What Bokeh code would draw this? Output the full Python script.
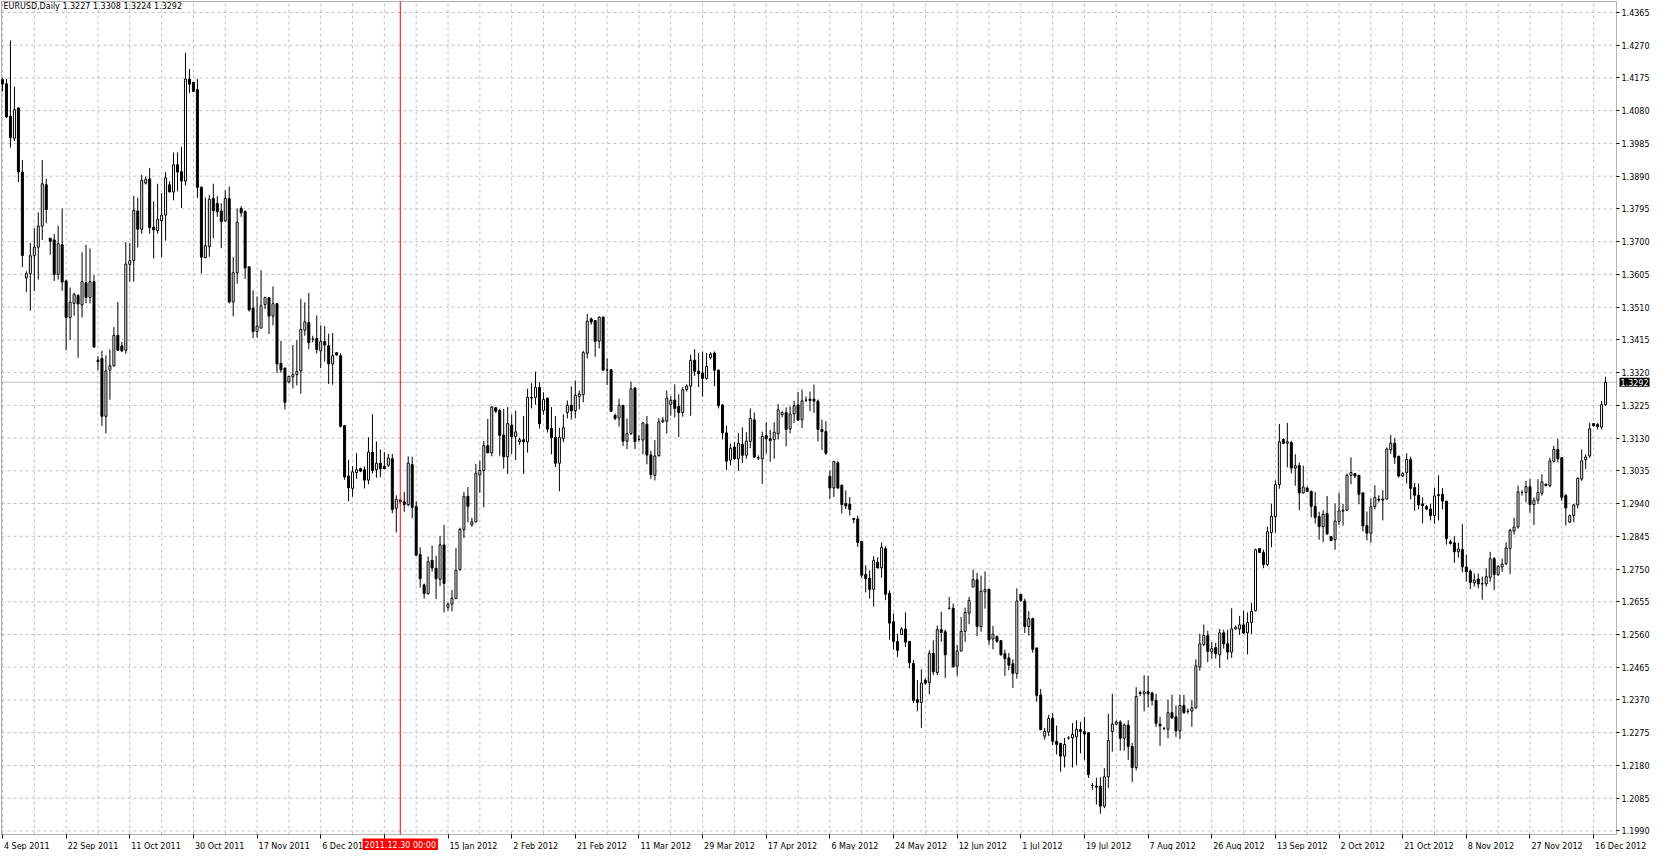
from bokeh.plotting import figure
from bokeh.models import (ColumnDataSource, FixedTicker, LinearAxis, Range1d, Label,
                          BoxAnnotation, PrintfTickFormatter)
from bokeh.embed import file_html
from bokeh.resources import INLINE

# ---------------- data (EURUSD daily) ----------------
opens = [1.4170,1.4158,1.4064,1.4000,1.4088,1.3902,1.3595,1.3607,1.3659,1.3684,
1.3745,1.3865,1.3710,1.3705,1.3605,1.3691,1.3586,1.3480,1.3521,1.3544,
1.3516,1.3581,1.3538,1.3584,1.3356,1.3361,1.3193,1.3327,1.3340,1.3428,
1.3397,1.3385,1.3634,1.3645,1.3789,1.3736,1.3870,1.3882,1.3742,1.3732,
1.3761,1.3777,1.3865,1.3844,1.3923,1.3903,1.3876,1.4172,1.4162,1.4141,
1.3858,1.3653,1.3686,1.3825,1.3811,1.3789,1.3760,1.3825,1.3525,1.3610,
1.3796,1.3787,1.3627,1.3507,1.3439,1.3449,1.3517,1.3537,1.3484,1.3520,
1.3347,1.3333,1.3293,1.3308,1.3314,1.3325,1.3443,1.3465,1.3417,1.3419,
1.3383,1.3410,1.3398,1.3345,1.3378,1.3369,1.3166,1.3020,1.2984,1.3030,
1.3041,1.3038,1.3008,1.3089,1.3038,1.3057,1.3048,1.3051,1.3070,1.2926,
1.2950,1.2945,1.2937,1.3053,1.2931,1.2792,1.2704,1.2679,1.2775,1.2752,
1.2720,1.2820,1.2639,1.2648,1.2664,1.2749,1.2864,1.2961,1.2878,1.2887,
1.3023,1.3036,1.3108,1.3087,1.3218,1.3210,1.3139,1.3076,1.3168,1.3134,
1.3119,1.3125,1.3119,1.3248,1.3248,1.3277,1.3210,1.3246,1.3158,1.3132,
1.3057,1.3129,1.3204,1.3225,1.3209,1.3251,1.3256,1.3376,1.3476,1.3471,
1.3411,1.3481,1.3328,1.3328,1.3196,1.3188,1.3225,1.3121,1.3143,1.3275,
1.3126,1.3124,1.3170,1.3081,1.3022,1.3079,1.3177,1.3179,1.3228,1.3240,
1.3222,1.3204,1.3271,1.3281,1.3356,1.3324,1.3319,1.3303,1.3364,1.3377,
1.3327,1.3226,1.3145,1.3066,1.3104,1.3070,1.3112,1.3080,1.3120,1.3183,
1.3072,1.3070,1.3137,1.3128,1.3126,1.3142,1.3198,1.3204,1.3157,1.3200,
1.3226,1.3183,1.3240,1.3243,1.3243,1.3237,1.3155,1.3149,1.3019,1.2985,
1.3058,1.2993,1.2940,1.2938,1.2897,1.2895,1.2830,1.2734,1.2723,1.2691,
1.2770,1.2753,1.2809,1.2680,1.2597,1.2540,1.2560,1.2576,1.2540,1.2476,
1.2371,1.2363,1.2427,1.2420,1.2505,1.2450,1.2574,1.2568,1.2636,1.2636,
1.2468,1.2512,1.2569,1.2622,1.2698,1.2719,1.2583,1.2684,1.2691,1.2547,
1.2554,1.2542,1.2504,1.2492,1.2475,1.2447,1.2676,1.2657,1.2583,1.2606,
1.2521,1.2384,1.2265,1.2277,1.2317,1.2250,1.2244,1.2207,1.2260,1.2260,
1.2263,1.2284,1.2278,1.2275,1.2122,1.2120,1.2120,1.2062,1.2147,1.2278,
1.2300,1.2306,1.2259,1.2297,1.2235,1.2174,1.2391,1.2388,1.2394,1.2390,
1.2369,1.2300,1.2287,1.2285,1.2333,1.2321,1.2280,1.2354,1.2337,1.2338,
1.2347,1.2466,1.2531,1.2557,1.2509,1.2522,1.2501,1.2565,1.2533,1.2509,
1.2576,1.2576,1.2588,1.2565,1.2595,1.2629,1.2809,1.2798,1.2763,1.2856,
1.2902,1.2995,1.3126,1.3115,1.3117,1.3043,1.3050,1.2971,1.2985,1.2976,
1.2932,1.2902,1.2873,1.2911,1.2844,1.2835,1.2888,1.2918,1.2921,1.3022,
1.3027,1.3022,1.2971,1.2876,1.2854,1.2931,1.2953,1.2953,1.2953,1.3096,
1.3115,1.3077,1.3020,1.3030,1.3068,1.2986,1.2964,1.2939,1.2931,1.2924,
1.2905,1.2963,1.2967,1.2947,1.2829,1.2826,1.2800,1.2807,1.2756,1.2744,
1.2710,1.2721,1.2707,1.2707,1.2726,1.2780,1.2734,1.2756,1.2766,1.2809,
1.2860,1.2872,1.2972,1.2972,1.2989,1.2937,1.2950,1.2970,1.2996,1.2992,
1.3062,1.3097,1.3073,1.2963,1.2886,1.2905,1.2936,1.3011,1.3067,1.3078,
1.3172,1.3169,1.3162,1.3227]

highs = [1.4174,1.4172,1.4284,1.4150,1.4090,1.3937,1.3614,1.3696,1.3739,1.3785,
1.3937,1.3882,1.3710,1.3722,1.3746,1.3796,1.3590,1.3567,1.3552,1.3547,
1.3669,1.3691,1.3680,1.3603,1.3368,1.3383,1.3370,1.3387,1.3452,1.3525,
1.3409,1.3699,1.3696,1.3833,1.3828,1.3894,1.3889,1.3914,1.3817,1.3868,
1.3841,1.3902,1.3875,1.3959,1.3959,1.3975,1.4248,1.4201,1.4164,1.4172,
1.3860,1.3828,1.3835,1.3868,1.3832,1.3811,1.3849,1.3860,1.3655,1.3796,
1.3803,1.3791,1.3627,1.3559,1.3541,1.3617,1.3540,1.3539,1.3570,1.3521,
1.3412,1.3335,1.3311,1.3400,1.3414,1.3534,1.3524,1.3551,1.3427,1.3486,
1.3457,1.3455,1.3433,1.3435,1.3379,1.3376,1.3167,1.3067,1.3048,1.3086,
1.3044,1.3048,1.3132,1.3199,1.3120,1.3097,1.3089,1.3084,1.3084,1.2964,
1.2955,1.2974,1.3077,1.3076,1.2947,1.2813,1.2708,1.2787,1.2818,1.2789,
1.2846,1.2878,1.2653,1.2689,1.2811,1.2870,1.2974,1.2988,1.2899,1.3055,
1.3064,1.3122,1.3186,1.3224,1.3220,1.3215,1.3215,1.3220,1.3198,1.3210,
1.3131,1.3194,1.3273,1.3289,1.3323,1.3292,1.3263,1.3246,1.3220,1.3194,
1.3160,1.3199,1.3239,1.3280,1.3297,1.3268,1.3383,1.3490,1.3480,1.3471,
1.3483,1.3483,1.3361,1.3330,1.3201,1.3244,1.3225,1.3187,1.3294,1.3278,
1.3139,1.3177,1.3194,1.3093,1.3124,1.3188,1.3191,1.3268,1.3252,1.3286,
1.3257,1.3278,1.3286,1.3372,1.3388,1.3377,1.3381,1.3377,1.3379,1.3381,
1.3329,1.3228,1.3166,1.3114,1.3118,1.3144,1.3161,1.3147,1.3216,1.3204,
1.3080,1.3149,1.3176,1.3154,1.3176,1.3228,1.3209,1.3219,1.3222,1.3238,
1.3264,1.3271,1.3251,1.3265,1.3285,1.3242,1.3184,1.3179,1.3036,1.3064,
1.3063,1.2995,1.2978,1.2959,1.2897,1.2905,1.2830,1.2761,1.2746,1.2787,
1.2784,1.2827,1.2816,1.2688,1.2621,1.2562,1.2581,1.2624,1.2540,1.2486,
1.2428,1.2459,1.2433,1.2514,1.2543,1.2586,1.2626,1.2574,1.2669,1.2650,
1.2530,1.2611,1.2638,1.2669,1.2748,1.2739,1.2731,1.2743,1.2693,1.2585,
1.2557,1.2544,1.2516,1.2506,1.2488,1.2694,1.2678,1.2664,1.2628,1.2609,
1.2521,1.2402,1.2289,1.2327,1.2332,1.2296,1.2246,1.2260,1.2265,1.2303,
1.2311,1.2306,1.2321,1.2275,1.2129,1.2144,1.2146,1.2172,1.2330,1.2388,
1.2311,1.2311,1.2302,1.2311,1.2245,1.2407,1.2397,1.2442,1.2440,1.2394,
1.2388,1.2321,1.2292,1.2371,1.2385,1.2354,1.2385,1.2385,1.2345,1.2369,
1.2488,1.2562,1.2589,1.2571,1.2538,1.2536,1.2576,1.2574,1.2574,1.2636,
1.2586,1.2614,1.2629,1.2624,1.2651,1.2809,1.2811,1.2806,1.2873,1.2940,
1.3007,1.3171,1.3129,1.3174,1.3122,1.3083,1.3059,1.3050,1.2990,1.2976,
1.2973,1.2916,1.2921,1.2962,1.2846,1.2940,1.2971,1.2939,1.3027,1.3074,
1.3029,1.3022,1.2971,1.2917,1.2955,1.2993,1.2964,1.2979,1.3103,1.3139,
1.3130,1.3079,1.3031,1.3086,1.3076,1.3000,1.2998,1.2958,1.2936,1.2939,
1.2986,1.3022,1.2985,1.2947,1.2835,1.2845,1.2826,1.2880,1.2792,1.2749,
1.2737,1.2737,1.2728,1.2752,1.2800,1.2785,1.2761,1.2780,1.2828,1.2867,
1.2899,1.2992,1.2979,1.3006,1.3011,1.2958,1.3011,1.3025,1.2998,1.3073,
1.3107,1.3128,1.3075,1.2968,1.2908,1.2939,1.3016,1.3097,1.3083,1.3174,
1.3174,1.3174,1.3238,1.3308]

lows = [1.4136,1.4059,1.3973,1.3992,1.3873,1.3626,1.3554,1.3500,1.3557,1.3590,
1.3705,1.3753,1.3662,1.3586,1.3590,1.3557,1.3385,1.3415,1.3485,1.3363,
1.3480,1.3521,1.3521,1.3392,1.3327,1.3165,1.3144,1.3241,1.3337,1.3383,
1.3380,1.3375,1.3584,1.3584,1.3683,1.3723,1.3866,1.3723,1.3651,1.3723,
1.3655,1.3703,1.3844,1.3820,1.3846,1.3798,1.3863,1.4131,1.4136,1.3827,
1.3608,1.3653,1.3656,1.3710,1.3772,1.3681,1.3758,1.3521,1.3483,1.3578,
1.3772,1.3592,1.3497,1.3420,1.3421,1.3449,1.3504,1.3432,1.3457,1.3319,
1.3319,1.3213,1.3289,1.3274,1.3283,1.3259,1.3427,1.3388,1.3408,1.3376,
1.3333,1.3352,1.3287,1.3285,1.3369,1.3161,1.3009,1.2947,1.2960,1.3012,
1.3031,1.2984,1.2996,1.3027,1.3015,1.3017,1.3039,1.3046,1.2912,1.2856,
1.2940,1.2916,1.2932,1.2897,1.2790,1.2696,1.2664,1.2675,1.2742,1.2663,
1.2701,1.2624,1.2629,1.2627,1.2664,1.2744,1.2840,1.2886,1.2873,1.2885,
1.2971,1.2929,1.3087,1.3077,1.3203,1.3079,1.3041,1.3026,1.3084,1.3066,
1.3110,1.3026,1.3088,1.3216,1.3227,1.3158,1.3198,1.3146,1.3083,1.3046,
1.2976,1.3118,1.3187,1.3184,1.3188,1.3213,1.3234,1.3361,1.3459,1.3366,
1.3390,1.3327,1.3284,1.3206,1.3182,1.3163,1.3107,1.3098,1.3139,1.3098,
1.3120,1.3083,1.3054,1.3012,1.3007,1.3076,1.3175,1.3143,1.3195,1.3190,
1.3133,1.3192,1.3265,1.3195,1.3310,1.3278,1.3250,1.3300,1.3358,1.3281,
1.3216,1.3126,1.3037,1.3051,1.3066,1.3034,1.3058,1.3070,1.3101,1.3072,
1.3066,1.2997,1.3085,1.3061,1.3070,1.3126,1.3190,1.3106,1.3144,1.3174,
1.3181,1.3159,1.3234,1.3208,1.3203,1.3120,1.3095,1.3081,1.2953,1.2959,
1.2983,1.2911,1.2924,1.2905,1.2883,1.2814,1.2723,1.2682,1.2664,1.2641,
1.2753,1.2725,1.2660,1.2545,1.2516,1.2495,1.2560,1.2524,1.2462,1.2361,
1.2337,1.2289,1.2414,1.2387,1.2442,1.2442,1.2539,1.2434,1.2633,1.2464,
1.2440,1.2511,1.2539,1.2590,1.2697,1.2555,1.2568,1.2635,1.2530,1.2517,
1.2536,1.2499,1.2440,1.2456,1.2405,1.2432,1.2654,1.2564,1.2557,1.2507,
1.2365,1.2282,1.2255,1.2265,1.2239,1.2212,1.2162,1.2174,1.2255,1.2174,
1.2182,1.2215,1.2196,1.2144,1.2110,1.2067,1.2040,1.2056,1.2115,1.2220,
1.2297,1.2223,1.2223,1.2196,1.2132,1.2166,1.2381,1.2337,1.2349,1.2354,
1.2292,1.2237,1.2282,1.2259,1.2316,1.2263,1.2256,1.2330,1.2330,1.2292,
1.2345,1.2455,1.2526,1.2480,1.2490,1.2490,1.2463,1.2519,1.2487,1.2492,
1.2574,1.2559,1.2562,1.2502,1.2562,1.2627,1.2796,1.2753,1.2758,1.2813,
1.2856,1.2983,1.3112,1.3045,1.3028,1.2992,1.2921,1.2969,1.2973,1.2900,
1.2882,1.2835,1.2828,1.2849,1.2830,1.2806,1.2878,1.2876,1.2919,1.2996,
1.3014,1.2938,1.2859,1.2833,1.2826,1.2923,1.2943,1.2891,1.2952,1.3084,
1.3055,1.3015,1.3017,1.2998,1.2952,1.2919,1.2923,1.2883,1.2921,1.2891,
1.2881,1.2891,1.2923,1.2821,1.2821,1.2768,1.2783,1.2740,1.2714,1.2692,
1.2699,1.2694,1.2661,1.2699,1.2713,1.2689,1.2730,1.2742,1.2761,1.2735,
1.2850,1.2867,1.2963,1.2944,1.2913,1.2878,1.2939,1.2963,1.2990,1.2987,
1.3059,1.3059,1.2948,1.2876,1.2884,1.2886,1.2926,1.3006,1.3040,1.3073,
1.3163,1.3155,1.3155,1.3224]

closes = [1.4158,1.4062,1.4002,1.4083,1.3902,1.3660,1.3607,1.3659,1.3684,1.3745,
1.3868,1.3793,1.3701,1.3605,1.3694,1.3583,1.3480,1.3524,1.3547,1.3519,
1.3584,1.3538,1.3584,1.3394,1.3352,1.3193,1.3325,1.3340,1.3428,1.3385,
1.3383,1.3635,1.3645,1.3791,1.3736,1.3878,1.3880,1.3741,1.3734,1.3765,
1.3777,1.3885,1.3844,1.3923,1.3902,1.3876,1.4172,1.4157,1.4136,1.3858,
1.3655,1.3688,1.3823,1.3790,1.3787,1.3758,1.3825,1.3525,1.3610,1.3756,
1.3784,1.3624,1.3502,1.3439,1.3455,1.3514,1.3538,1.3484,1.3520,1.3345,
1.3328,1.3234,1.3309,1.3314,1.3323,1.3445,1.3467,1.3407,1.3417,1.3387,
1.3410,1.3400,1.3345,1.3369,1.3371,1.3164,1.3017,1.2986,1.3032,1.3038,
1.3034,1.3008,1.3089,1.3036,1.3057,1.3041,1.3041,1.3072,1.2923,1.2952,
1.2945,1.2937,1.3057,1.2929,1.2790,1.2722,1.2679,1.2771,1.2753,1.2722,
1.2820,1.2708,1.2648,1.2665,1.2746,1.2865,1.2961,1.2932,1.2887,1.3028,
1.3036,1.3108,1.3087,1.3220,1.3208,1.3138,1.3076,1.3172,1.3134,1.3148,
1.3125,1.3119,1.3248,1.3246,1.3277,1.3172,1.3242,1.3156,1.3131,1.3057,
1.3132,1.3160,1.3225,1.3209,1.3254,1.3258,1.3378,1.3469,1.3467,1.3411,
1.3481,1.3327,1.3328,1.3208,1.3187,1.3225,1.3121,1.3143,1.3273,1.3120,
1.3126,1.3174,1.3081,1.3024,1.3078,1.3177,1.3182,1.3246,1.3240,1.3216,
1.3204,1.3270,1.3281,1.3356,1.3324,1.3317,1.3303,1.3338,1.3374,1.3327,
1.3224,1.3145,1.3063,1.3101,1.3070,1.3115,1.3080,1.3121,1.3187,1.3075,
1.3073,1.3135,1.3128,1.3123,1.3147,1.3212,1.3204,1.3155,1.3200,1.3224,
1.3182,1.3238,1.3240,1.3239,1.3237,1.3155,1.3149,1.3086,1.2985,1.3062,
1.2985,1.2937,1.2933,1.2923,1.2894,1.2827,1.2732,1.2722,1.2691,1.2775,
1.2753,1.2813,1.2677,1.2593,1.2540,1.2514,1.2576,1.2538,1.2478,1.2369,
1.2363,1.2419,1.2419,1.2505,1.2452,1.2574,1.2566,1.2501,1.2636,1.2466,
1.2512,1.2569,1.2624,1.2659,1.2719,1.2583,1.2686,1.2691,1.2544,1.2561,
1.2540,1.2501,1.2490,1.2471,1.2447,1.2657,1.2659,1.2583,1.2606,1.2517,
1.2383,1.2284,1.2279,1.2316,1.2250,1.2241,1.2207,1.2241,1.2260,1.2270,
1.2285,1.2278,1.2271,1.2153,1.2122,1.2117,1.2062,1.2147,1.2252,1.2300,
1.2306,1.2259,1.2297,1.2235,1.2174,1.2380,1.2389,1.2394,1.2388,1.2369,
1.2302,1.2295,1.2287,1.2333,1.2318,1.2280,1.2354,1.2333,1.2337,1.2347,
1.2469,1.2533,1.2557,1.2511,1.2519,1.2504,1.2565,1.2533,1.2509,1.2576,
1.2581,1.2588,1.2564,1.2595,1.2627,1.2806,1.2798,1.2763,1.2858,1.2903,
1.2995,1.3119,1.3115,1.3119,1.3043,1.3050,1.2971,1.2988,1.2975,1.2932,
1.2900,1.2873,1.2909,1.2852,1.2833,1.2889,1.2919,1.2921,1.3022,1.3030,
1.3020,1.2967,1.2875,1.2854,1.2931,1.2958,1.2950,1.2950,1.3098,1.3115,
1.3074,1.3020,1.3027,1.3068,1.2984,1.2964,1.2936,1.2934,1.2924,1.2905,
1.2962,1.2966,1.2947,1.2838,1.2824,1.2800,1.2808,1.2756,1.2742,1.2711,
1.2718,1.2707,1.2707,1.2728,1.2780,1.2734,1.2758,1.2764,1.2811,1.2862,
1.2872,1.2974,1.2972,1.2989,1.2937,1.2950,1.2972,1.3003,1.2992,1.3064,
1.3097,1.3070,1.2958,1.2927,1.2905,1.2936,1.3013,1.3064,1.3075,1.3157,
1.3166,1.3163,1.3227,1.3292]

date_tick_bars = [0, 16, 32, 48, 64, 80, 96, 112, 128, 144, 160, 176, 192, 208,
                  224, 240, 256, 272, 288, 304, 320, 336, 352, 368, 384, 400]
date_tick_labels = ["4 Sep 2011", "22 Sep 2011", "11 Oct 2011", "30 Oct 2011",
                    "17 Nov 2011", "6 Dec 2011", "", "15 Jan 2012", "2 Feb 2012",
                    "21 Feb 2012", "11 Mar 2012", "29 Mar 2012", "17 Apr 2012",
                    "6 May 2012", "24 May 2012", "12 Jun 2012", "1 Jul 2012",
                    "19 Jul 2012", "7 Aug 2012", "26 Aug 2012", "13 Sep 2012",
                    "2 Oct 2012", "21 Oct 2012", "8 Nov 2012", "27 Nov 2012",
                    "16 Dec 2012"]
price_ticks = [1.1990, 1.2085, 1.2180, 1.2275, 1.2370, 1.2465, 1.2560, 1.2655,
               1.2750, 1.2845, 1.2940, 1.3035, 1.3130, 1.3225, 1.3320, 1.3415,
               1.3510, 1.3605, 1.3700, 1.3795, 1.3890, 1.3985, 1.4080, 1.4175,
               1.4270, 1.4365]
grid_bars = list(range(0, 406, 8))
marker_bar = 100
marker_text = "2011.12.30 00:00"
bid_price = 1.3292
bid_text = "1.3292"
header_text = "EURUSD,Daily  1.3227 1.3308 1.3224 1.3292"

# ---------------- layout (pixels inside the canvas) ----------------
W, H = 1652, 850
CL, CT, CR, CB = 1, 1, 1616, 834          # chart box
X0, X1 = -0.25, 405.75                     # bar span of chart box
Y0, Y1 = 1.19796, 1.43969                  # price span of chart box
FONT = "DejaVu Sans"
FS = "8px"

bpp = (X1 - X0) / (CR - CL)                # bars per pixel
ppp = (Y1 - Y0) / (CB - CT)                # price per pixel
x_range = Range1d(X0 - CL * bpp, X0 + (W - CL) * bpp)
y_range = Range1d(Y1 - (H - CT) * ppp, Y1 + CT * ppp)

p = figure(width=W, height=H, x_range=x_range, y_range=y_range,
           x_axis_type=None, y_axis_type=None, output_backend="svg",
           toolbar_location=None, min_border=0, min_border_left=0,
           min_border_right=0, min_border_top=0, min_border_bottom=0)
p.outline_line_color = None
p.background_fill_color = "white"
p.border_fill_color = "white"
p.grid.visible = False

# dashed grid inside the chart box
grid_style = dict(line_color="#c0c0c0", line_dash="3 3", line_width=1)
p.segment(x0=[X0] * len(price_ticks), x1=[X1] * len(price_ticks),
          y0=price_ticks, y1=price_ticks, **grid_style)
p.segment(x0=grid_bars, x1=grid_bars, y0=[Y0] * len(grid_bars),
          y1=[Y1] * len(grid_bars), **grid_style)

# bid line
p.segment(x0=[X0], x1=[X1], y0=[bid_price], y1=[bid_price],
          line_color="#c0c0c0", line_width=1)

# candles
idx = list(range(len(opens)))
up = [c >= o for o, c in zip(opens, closes)]
src = ColumnDataSource(data=dict(
    x=idx,
    top=[max(o, c) for o, c in zip(opens, closes)],
    bottom=[min(o, c) for o, c in zip(opens, closes)],
    hi=[max(h, o, c) for h, o, c in zip(highs, opens, closes)],
    lo=[min(l, o, c) for l, o, c in zip(lows, opens, closes)],
    fill=["white" if u else "black" for u in up],
))
p.segment(x0="x", y0="lo", x1="x", y1="hi", source=src, line_color="black", line_width=1)
p.vbar(x="x", width=0.5, top="top", bottom="bottom", source=src,
       fill_color="fill", line_color="black", line_width=1)

# red vertical marker line
p.segment(x0=[marker_bar], x1=[marker_bar], y0=[Y0], y1=[Y1],
          line_color="#ff0000", line_width=1)

# chart border
p.add_layout(BoxAnnotation(left=X0, right=X1, bottom=Y0, top=Y1, fill_color=None,
                           line_color="black", line_width=1, level="overlay"))

# right price axis, pinned to the chart's right edge
yaxis = LinearAxis(fixed_location=X1, bounds=(Y0, Y1),
                   ticker=FixedTicker(ticks=price_ticks),
                   formatter=PrintfTickFormatter(format="%.4f"),
                   major_tick_out=3, major_tick_in=0, minor_tick_line_color=None,
                   major_label_standoff=2, major_label_text_font=FONT,
                   major_label_text_font_size=FS, major_label_text_color="black",
                   axis_line_color=None, major_tick_line_color="black")
p.add_layout(yaxis, "right")

# bottom date axis: labels start at their tick (MetaTrader style)
cw = {"0": .636, "1": .636, "2": .636, "3": .636, "4": .636, "5": .636, "6": .636,
      "7": .636, "8": .636, "9": .636, " ": .318, "S": .635, "e": .615, "p": .635,
      "O": .787, "c": .55, "t": .392, "N": .748, "o": .612, "v": .592, "D": .77,
      "J": .295, "a": .613, "n": .634, "F": .575, "b": .635, "M": .863, "r": .411,
      "A": .684, "y": .592, "u": .634, "l": .278, "g": .635, "m": .974}
fs_px = 8.0
label_pos, overrides = [], {}
for b, lbl in zip(date_tick_bars, date_tick_labels):
    w = sum(cw.get(ch, 0.6) for ch in lbl) * fs_px
    pos = round(b + (w / 2 + 1.5) * bpp, 4)
    label_pos.append(pos)
    overrides[pos] = lbl
xaxis = LinearAxis(fixed_location=Y0, bounds=(X0, X1 + 80 * bpp),
                   ticker=FixedTicker(ticks=label_pos, minor_ticks=date_tick_bars),
                   major_label_overrides=overrides,
                   major_tick_line_color=None, minor_tick_out=4, minor_tick_in=0,
                   minor_tick_line_color="black", major_label_standoff=1,
                   major_label_text_font=FONT, major_label_text_font_size=FS,
                   major_label_text_color="black", axis_line_color=None)
p.add_layout(xaxis, "below")

# red marker date tag on the date axis
p.add_layout(Label(x=marker_bar, y=Y0 - 4 * ppp, text=marker_text, text_align="center",
                   text_baseline="top", text_font=FONT, text_font_size=FS,
                   text_color="white", background_fill_color="#ff0000", padding=2,
                   level="overlay"))

# bid price tag on the price axis
p.add_layout(Label(x=X1 + 3 * bpp, y=bid_price, text=bid_text, text_align="left",
                   text_baseline="middle", text_font=FONT, text_font_size=FS,
                   text_color="white", background_fill_color="black", padding=1,
                   level="overlay"))

# header text
p.add_layout(Label(x=X0 + 2 * bpp, y=Y1 - 5 * ppp, text=header_text, text_align="left",
                   text_baseline="middle", text_font=FONT, text_font_size=FS,
                   text_color="black", level="overlay"))

open("out.html", "w").write(file_html(p, INLINE))
